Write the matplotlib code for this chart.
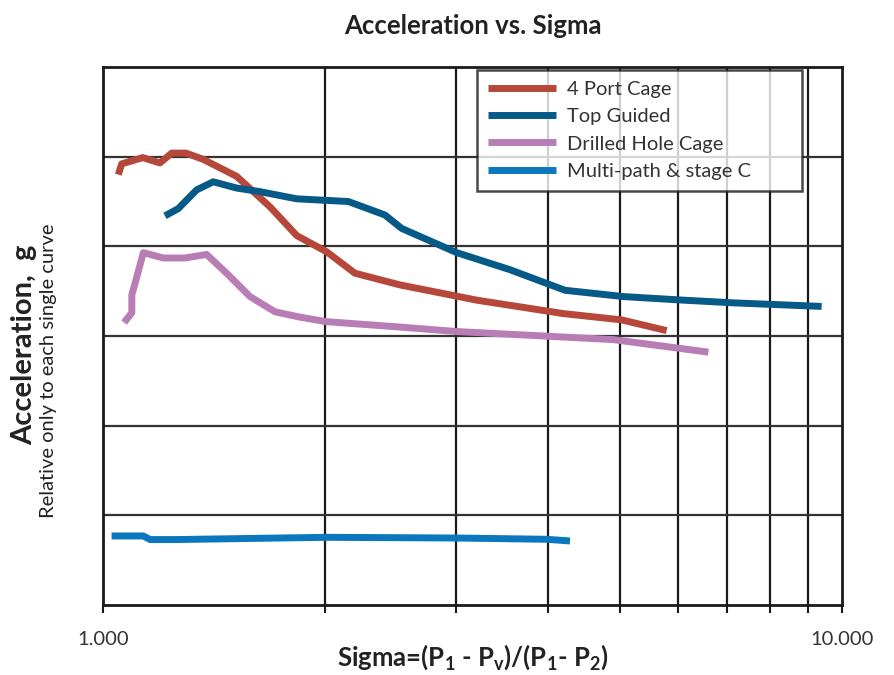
import matplotlib.pyplot as plt
from matplotlib.ticker import FixedLocator, NullFormatter, FixedFormatter

plt.rcParams['font.family'] = ['Lato', 'DejaVu Sans']
plt.rcParams['mathtext.fontset'] = 'custom'
plt.rcParams['mathtext.rm'] = 'Lato:bold'
plt.rcParams['mathtext.it'] = 'Lato:bold'
plt.rcParams['mathtext.bf'] = 'Lato:bold'

# 4 Port Cage
port4_x = [1.049, 1.060, 1.132, 1.194, 1.239, 1.295, 1.367, 1.517, 1.683, 1.829,
           2.007, 2.193, 2.523, 3.204, 4.197, 5.033, 5.791]
port4_y = [4.80, 4.92, 4.99, 4.93, 5.04, 5.04, 4.97, 4.78, 4.44, 4.12,
           3.94, 3.70, 3.57, 3.40, 3.25, 3.18, 3.06]

# Top Guided
top_x = [1.213, 1.264, 1.339, 1.410, 1.517, 1.631, 1.829, 2.148, 2.407, 2.536,
         3.011, 3.553, 4.219, 5.058, 6.099, 7.127, 9.386]
top_y = [4.34, 4.42, 4.63, 4.72, 4.65, 4.61, 4.53, 4.50, 4.35, 4.20,
         3.93, 3.74, 3.51, 3.44, 3.40, 3.37, 3.33]

# Drilled Hole Cage
drill_x = [1.068, 1.094, 1.094, 1.107, 1.134, 1.207, 1.291, 1.381, 1.470, 1.581,
           1.709, 1.848, 2.007, 2.523, 3.011, 4.903, 6.595]
drill_y = [3.15, 3.26, 3.46, 3.61, 3.93, 3.87, 3.87, 3.91, 3.70, 3.44,
           3.27, 3.21, 3.16, 3.10, 3.05, 2.96, 2.82]

# Multi-path & stage C
multi_x = [1.027, 1.134, 1.158, 1.258, 2.007, 3.011, 3.985, 4.285]
multi_y = [0.77, 0.77, 0.73, 0.73, 0.755, 0.747, 0.733, 0.714]

fig = plt.figure(figsize=(8.94, 6.75), dpi=100)
ax = fig.add_axes([0.1152, 0.1037, 0.8266, 0.797])

lw = 5
ax.plot(port4_x, port4_y, color='#B5483A', lw=lw, label='4 Port Cage', solid_capstyle='butt')
ax.plot(top_x, top_y, color='#055A88', lw=lw, label='Top Guided', solid_capstyle='butt')
ax.plot(drill_x, drill_y, color='#B97DB6', lw=lw, label='Drilled Hole Cage', solid_capstyle='butt')
ax.plot(multi_x, multi_y, color='#0A77BE', lw=lw, label='Multi-path & stage C', solid_capstyle='butt')

ax.set_xscale('log')
ax.set_xlim(1, 10)
ax.set_ylim(0, 6)

ax.xaxis.set_major_locator(FixedLocator([1, 10]))
ax.xaxis.set_major_formatter(FixedFormatter(['1.000', '10.000']))
ax.xaxis.set_minor_locator(FixedLocator([2, 3, 4, 5, 6, 7, 8, 9]))
ax.xaxis.set_minor_formatter(NullFormatter())
ax.tick_params(axis='x', which='both', direction='out', length=6, width=1.5,
               color='#1a1a1a', labelsize=14.5, pad=13, labelcolor='#333333')
ax.set_yticks([1, 2, 3, 4, 5])
ax.tick_params(axis='y', length=0, labelleft=False)

ax.grid(True, axis='x', which='minor', color='#1a1a1a', lw=1.6)
ax.grid(True, axis='y', which='major', color='#333333', lw=1.6)
ax.set_axisbelow(True)
for s in ax.spines.values():
    s.set_linewidth(2)
    s.set_color('#1a1a1a')

# legend box spans roughly x 477-802 px, y 70-194 px in the reference
leg = ax.legend(loc='upper left', bbox_to_anchor=(0.506, 0.9944, 0.440, 0.0),
                mode='expand', fontsize=14.5,
                frameon=True, fancybox=False, handlelength=3.4, handletextpad=0.5,
                borderpad=0.55, labelspacing=0.5, borderaxespad=0)
leg.get_frame().set_edgecolor('#1a1a1a')
leg.get_frame().set_linewidth(1.8)
for t in leg.get_texts():
    t.set_color('#333333')

fig.text(0.529, 0.962, 'Acceleration vs. Sigma', ha='center', va='center',
         fontsize=18.5, fontweight='bold', color='#222222')
fig.text(0.529, 0.026, r'Sigma=(P$_\mathrm{1}$ - P$_\mathrm{v}$)/(P$_\mathrm{1}$- P$_\mathrm{2}$)',
         ha='center', va='center', fontsize=18.5, fontweight='bold', color='#222222')
fig.text(0.027, 0.489, 'Acceleration,  g', rotation=90, ha='center', va='center',
         fontsize=21, fontweight='bold', color='#222222')
fig.text(0.054, 0.450, 'Relative only to each single curve', rotation=90, ha='center',
         va='center', fontsize=14.5, color='#222222')

fig.savefig('out.png', dpi=100)
